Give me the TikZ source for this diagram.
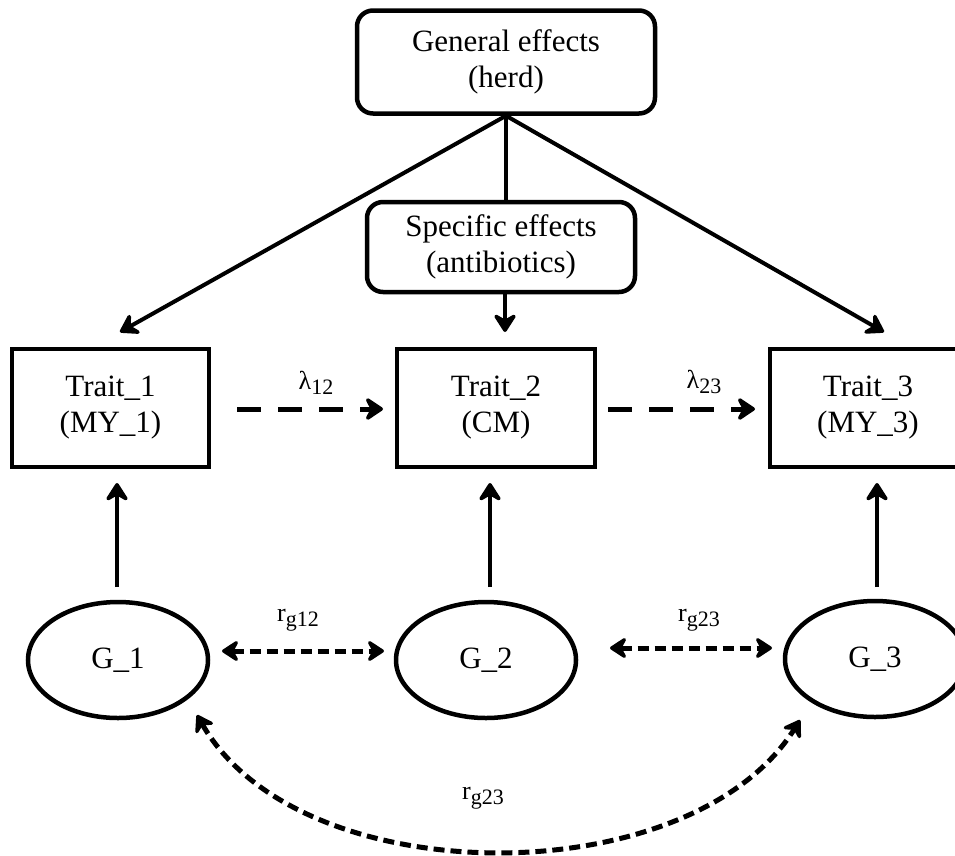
\documentclass[tikz,border=0pt]{standalone}
\usepackage{fontspec}
\setmainfont{Liberation Serif}
\usetikzlibrary{arrows.meta,shapes.geometric}
\tikzset{
  boxnode/.style={draw, line width=4.5pt, align=center, inner sep=0pt,
    font=\fontsize{31}{36}\selectfont},
  roundbox/.style={boxnode, rounded corners=16pt},
  gnode/.style={draw, ellipse, line width=4.5pt, inner sep=0pt,
    minimum width=180pt, minimum height=116pt, font=\fontsize{31}{36}\selectfont},
  arr/.style={line width=4pt, -{Stealth[length=22pt,width=28pt,inset=8pt,round]}},
  plain/.style={line width=4pt},
  lamarr/.style={line width=5pt, dash pattern=on 24pt off 17pt,
    -{Stealth[length=21pt,width=28pt,inset=7pt,round]}},
  rgarr/.style={line width=5pt, dash pattern=on 11pt off 6pt,
    {Stealth[length=20pt,width=26pt,inset=7pt,round]}-{Stealth[length=20pt,width=26pt,inset=7pt,round]}},
  lbl/.style={inner sep=0pt, font=\fontsize{26}{30}\selectfont},
}
\newcommand{\subtxt}[1]{\raisebox{-5pt}{\fontsize{22}{24}\selectfont #1}}
\begin{document}
\begin{tikzpicture}[x=1pt,y=-1pt]
\useasboundingbox (0,0) rectangle (955,855);
\clip (0,0) rectangle (955,855);

% nodes
\node[roundbox, minimum width=298pt, minimum height=103pt] (gen) at (506,62) {General effects\\(herd)};
\node[roundbox, minimum width=268pt, minimum height=90pt] (spec) at (501,247) {Specific effects\\(antibiotics)};
\node[boxnode, minimum width=197pt, minimum height=118pt] (t1) at (110.5,408) {Trait\_1\\(MY\_1)};
\node[boxnode, minimum width=198pt, minimum height=118pt] (t2) at (496,408) {Trait\_2\\(CM)};
\node[boxnode, minimum width=196pt, minimum height=118pt] (t3) at (868,408) {Trait\_3\\(MY\_3)};
\node[gnode] (g1) at (118,660) {G\_1};
\node[gnode] (g2) at (486,660) {G\_2};
\node[gnode] (g3) at (875,659) {G\_3};

% coordinates for free ends
\coordinate (a1) at (120,332);
\coordinate (a3) at (884,332);
\coordinate (a2) at (505,332);
\coordinate (l12s) at (237,409);
\coordinate (l12e) at (383,409);
\coordinate (l23s) at (608,409);
\coordinate (l23e) at (755,409);
\coordinate (u1s) at (117,587);
\coordinate (u1e) at (117,483);
\coordinate (u2s) at (490,587);
\coordinate (u2e) at (490,483);
\coordinate (u3s) at (877,587);
\coordinate (u3e) at (877,483);
\coordinate (r12s) at (222,651);
\coordinate (r12e) at (384,651);
\coordinate (r23s) at (610,648);
\coordinate (r23e) at (772,648);
\coordinate (arcs) at (197,715);
\coordinate (arce) at (800,720);

% connectors
\draw[arr] (gen.south) -- (a1);
\draw[arr] (gen.south) -- (a3);
\draw[plain] (gen.south) -- (gen.south |- spec.north);
\draw[arr] (a2 |- spec.south) -- (a2);

\draw[lamarr] (l12s) -- (l12e);
\draw[lamarr] (l23s) -- (l23e);

\draw[arr] (u1s) -- (u1e);
\draw[arr] (u2s) -- (u2e);
\draw[arr] (u3s) -- (u3e);

\draw[rgarr] (r12s) -- (r12e);
\draw[rgarr] (r23s) -- (r23e);
\draw[rgarr] (arcs) .. controls (300,895) and (690,895) .. (arce);

% labels
\node[lbl] (lam12) at (316,383) {λ\subtxt{12}};
\node[lbl] (lam23) at (704,382) {λ\subtxt{23}};
\node[lbl] (rg12) at (298,620) {r\subtxt{g12}};
\node[lbl] (rg23) at (699,620) {r\subtxt{g23}};
\node[lbl] (rg13) at (483,798) {r\subtxt{g23}};
\end{tikzpicture}
\end{document}
